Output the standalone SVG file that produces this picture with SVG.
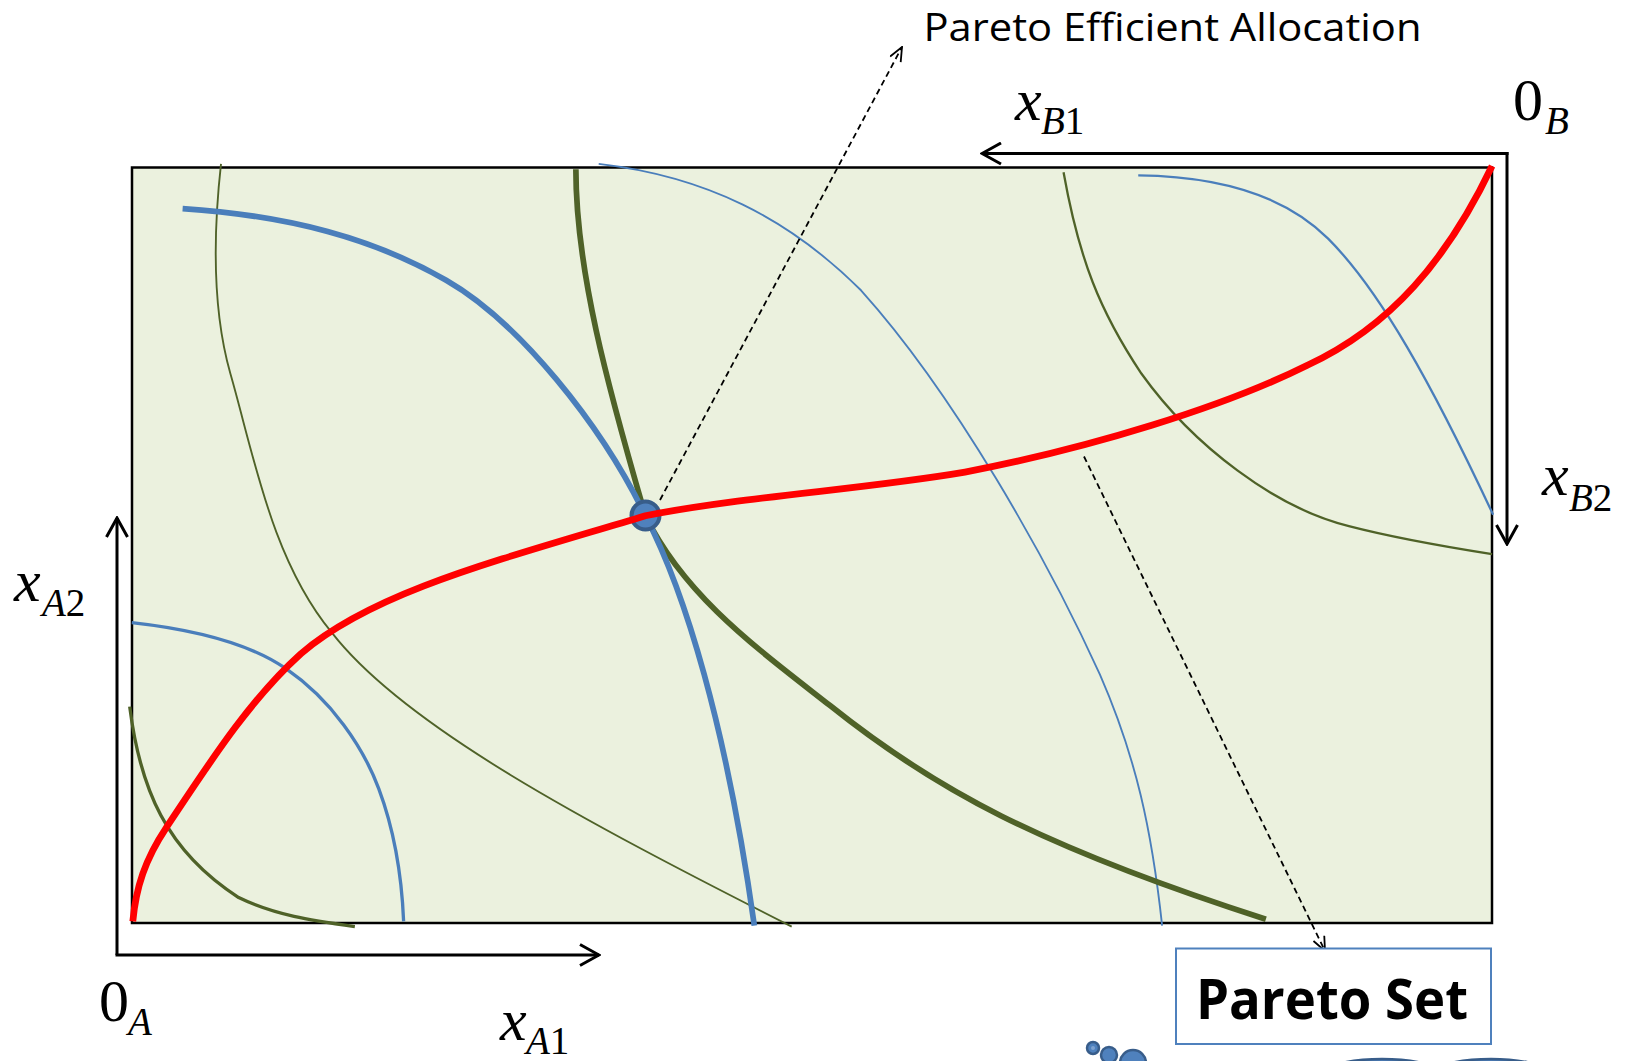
<svg xmlns="http://www.w3.org/2000/svg" width="1627" height="1061" viewBox="0 0 1627 1061">
<style>
.curve{fill:none;stroke-linecap:butt}
.blue{stroke:#4A7EBB}
.green{stroke:#4F6228}
.red{stroke:#FF0000}
.axis{fill:none;stroke:#000;stroke-width:3}
.dash{fill:none;stroke:#000;stroke-width:1.8;stroke-dasharray:6 4}
.math{font-family:"Liberation Serif","Times New Roman",serif;fill:#000}
.it{font-style:italic}
.lbl{font-family:"Open Sans","Noto Sans","Liberation Sans",sans-serif;fill:#000}
.bubble{fill:#4F81BD;stroke:#385D8A;stroke-width:2.5}
</style>
<defs>
<marker id="arrAxis" viewBox="0 0 22 24" refX="20" refY="12" markerWidth="22" markerHeight="24" orient="auto" markerUnits="userSpaceOnUse">
<path d="M1,1.5 L20,12 L1,22.5" fill="none" stroke="#000" stroke-width="3"/>
</marker>
<marker id="arrDash" viewBox="0 0 16 14" refX="15" refY="7" markerWidth="16" markerHeight="14" orient="auto" markerUnits="userSpaceOnUse">
<path d="M1,1 L15,7 L1,13" fill="none" stroke="#000" stroke-width="1.8"/>
</marker>
</defs>
<rect width="1627" height="1061" fill="#FFFFFF"/>

<g id="edgeworth-box">
<rect x="132" y="167.5" width="1360" height="755.5" fill="#EBF1DE" stroke="#000" stroke-width="2.5"/>
</g>

<g id="indifference-curves" transform="scale(1.0376)">
<path class="curve green" stroke-width="1.8" d="M213,158 C205,230 205,300 222,360 C245,440 262,540 320,610 C390,700 560,790 763,893"/>
<path class="curve green" stroke-width="3.2" d="M125,681 C135,760 160,820 230,865 C265,882 300,887 342,893"/>
<path class="curve green" stroke-width="2.2" d="M1025,166 C1040,250 1060,300 1100,360 C1150,430 1230,490 1300,507 C1350,520 1400,528 1438,534"/>
<path class="curve blue" stroke-width="3.2" d="M127,600 C190,607 240,620 275,644 C320,675 350,720 365,760 C380,800 387,840 389,888"/>
<path class="curve blue" stroke-width="1.8" d="M577,158 C680,170 760,210 830,280 C920,380 1010,540 1060,650 C1095,730 1110,800 1120,892"/>
<path class="curve blue" stroke-width="2.2" d="M1097,169 C1180,170 1240,190 1280,230 C1330,280 1380,370 1439,496"/>
<path class="curve green" stroke-width="5.5" d="M555,163 C555,260 585,370 622,497 C660,575 730,625 800,680 C900,760 1000,815 1220,886"/>
<path class="curve blue" stroke-width="5.5" d="M176,201 C280,208 360,230 430,270 C500,310 580,410 622,497 C660,570 700,700 727,892"/>
</g>

<g id="pareto-point">
<circle cx="645.5" cy="515.5" r="14" fill="#4F81BD" stroke="#385D8A" stroke-width="4"/>
</g>

<g id="contract-curve" transform="scale(1.0376)">
<path class="curve red" stroke-width="6.5" d="M128,888 C131,855 140,828 160,798 C200,738 240,675 290,630 C360,570 480,540 622,497 C720,478 830,472 930,455 C1050,432 1180,392 1260,352 C1340,315 1395,250 1438,160"/>
</g>

<g id="connectors">
<line class="axis" x1="117" y1="955" x2="117" y2="518" marker-end="url(#arrAxis)"/>
<line class="axis" x1="115.5" y1="955" x2="599" y2="955" marker-end="url(#arrAxis)"/>
<line class="axis" x1="1508.5" y1="153.5" x2="982" y2="153.5" marker-end="url(#arrAxis)"/>
<line class="axis" x1="1507" y1="152" x2="1507" y2="544" marker-end="url(#arrAxis)"/>
<line class="dash" x1="660" y1="500" x2="902" y2="47" marker-end="url(#arrDash)"/>
<line class="dash" x1="1084" y1="456.5" x2="1325" y2="951" marker-end="url(#arrDash)"/>
</g>

<g id="label-0B">
<text class="math" x="1513" y="120" font-size="60">0</text>
<text class="math it" x="1545" y="133.5" font-size="39">B</text>
</g>
<g id="label-xB1">
<text class="math it" x="1015" y="120" font-size="60">x</text>
<text class="math it" x="1041" y="134" font-size="39">B<tspan font-style="normal">1</tspan></text>
</g>
<g id="label-xB2">
<text class="math it" x="1542" y="495" font-size="60">x</text>
<text class="math it" x="1569" y="511" font-size="39">B<tspan font-style="normal">2</tspan></text>
</g>
<g id="label-xA2">
<text class="math it" x="14" y="601" font-size="60">x</text>
<text class="math it" x="42" y="616" font-size="39">A<tspan font-style="normal">2</tspan></text>
</g>
<g id="label-0A">
<text class="math" x="99" y="1021" font-size="60">0</text>
<text class="math it" x="128" y="1035" font-size="39">A</text>
</g>
<g id="label-xA1">
<text class="math it" x="500" y="1040" font-size="60">x</text>
<text class="math it" x="526" y="1054" font-size="39">A<tspan font-style="normal">1</tspan></text>
</g>

<g id="label-pareto-efficient">
<text class="lbl" x="923.5" y="41" font-size="39" textLength="498" lengthAdjust="spacingAndGlyphs">Pareto Efficient Allocation</text>
</g>

<g id="node-pareto-set">
<rect x="1176" y="948.5" width="315" height="95.5" fill="#FFFFFF" stroke="#4F81BD" stroke-width="2"/>
<text class="lbl" x="1196" y="1019" font-size="56" font-weight="bold" textLength="272" lengthAdjust="spacingAndGlyphs">Pareto Set</text>
</g>

<g id="decoration">
<ellipse class="bubble" cx="1382" cy="1089" rx="80" ry="30"/>
<ellipse class="bubble" cx="1491" cy="1089" rx="80" ry="30"/>
<circle class="bubble" cx="1133" cy="1063" r="13"/>
<circle class="bubble" cx="1109" cy="1055" r="8"/>
<circle class="bubble" cx="1093" cy="1048" r="6"/>
<circle cx="1093" cy="1048" r="2" fill="#7FA3D0"/>
</g>
</svg>
